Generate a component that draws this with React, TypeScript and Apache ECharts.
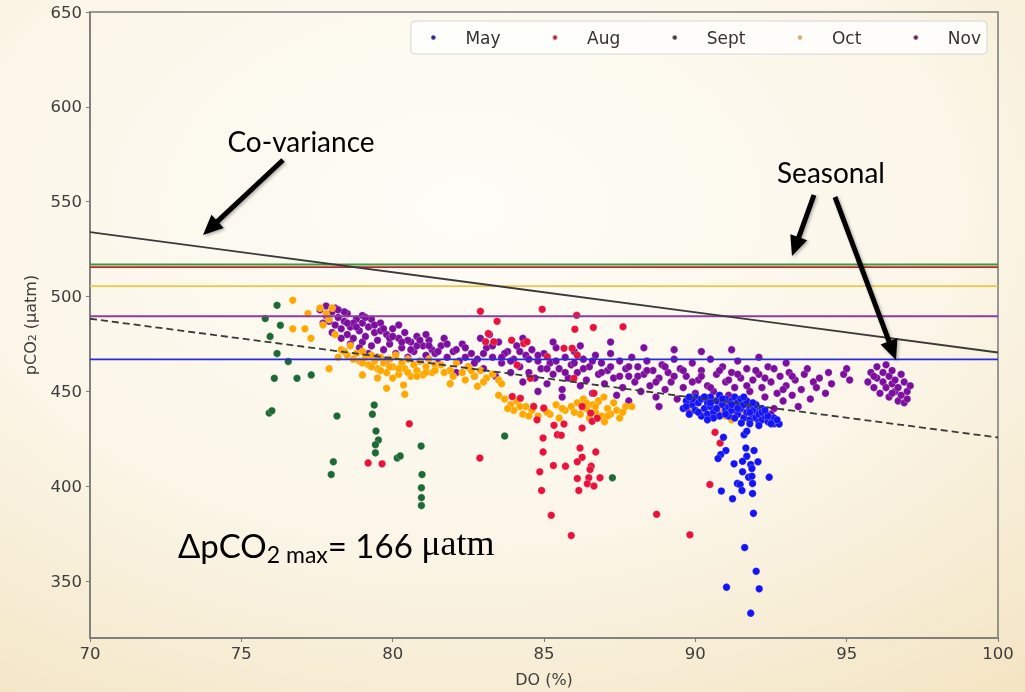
import React, { useEffect, useRef } from "react";
import * as echarts from "echarts";

// Axis ticks
const xTicks = [70, 75, 80, 85, 90, 95, 100];
const yTicks = [350, 400, 450, 500, 550, 600, 650];

// Monthly observations: [DO (%), pCO2 (µatm)]
const mayPoints = [
  [89.6, 441], [89.7, 445], [89.8, 438], [89.9, 443], [90.0, 447], [90.0, 440], [90.1, 444], [90.2, 437],
  [90.2, 446], [90.3, 441], [90.4, 444], [90.4, 438], [90.5, 447], [90.5, 442], [90.6, 439], [90.7, 445],
  [90.7, 441], [90.8, 437], [90.8, 448], [90.9, 443], [91.0, 440], [91.0, 446], [91.1, 442], [91.1, 437],
  [91.2, 445], [91.2, 440], [91.3, 447], [91.3, 443], [91.4, 438], [91.4, 444], [91.5, 441], [91.5, 446],
  [91.6, 436], [91.6, 443], [91.7, 439], [91.7, 445], [91.8, 441], [91.8, 435], [91.9, 438], [91.9, 442],
  [92.0, 436], [92.0, 440], [92.1, 434], [92.1, 438], [92.2, 441], [92.2, 435], [92.3, 437], [92.4, 434],
  [92.5, 436], [92.6, 433], [92.77, 432.8], [92.6, 436], [91.9, 440], [92.2, 439], [92.4, 437], [92.1, 432],
  [91.8, 433], [89.7, 442], [89.9, 446], [90.1, 439], [90.3, 447], [90.5, 444], [90.6, 436], [90.9, 446],
  [91.0, 438], [91.2, 443], [91.4, 441], [91.6, 447], [91.8, 439], [92.0, 443], [92.3, 440], [92.5, 433],
  [92.7, 435], [90.4, 435], [89.8, 447], [91.3, 436], [91.9, 444],
  [90.93, 425.8], [91.61, 427.2], [91.7, 429.0], [91.52, 433.3], [91.01, 418.8], [90.84, 416.7],
  [90.75, 414.6], [91.67, 420.2], [91.94, 418.8], [91.7, 415.8], [91.56, 413.2], [91.28, 411.8], [91.83, 411.4],
  [92.07, 412.9], [91.87, 409.3], [91.56, 407.6], [91.76, 404.8], [91.87, 405.3], [92.44, 404.8], [91.39, 401.5],
  [91.48, 400.9], [91.89, 401.5], [90.86, 397.5], [91.54, 397.8], [91.89, 396.2], [91.23, 393.4], [91.92, 385.7],
  [91.63, 367.7], [92.01, 355.2], [91.03, 346.8], [92.11, 345.9], [91.83, 333.1],
];

const augPoints = [
  [82.9, 492.2], [84.94, 493.3], [86.08, 490.1], [83.45, 487], [86.02, 482.8], [86.63, 483.7], [87.61, 484.1],
  [83.16, 480.5], [83.93, 477], [84.33, 475.3], [84.44, 476.2], [83.07, 476.2], [83.34, 476.2], [85.66, 472.7],
  [85.93, 472.7], [85.11, 468.3], [86.1, 469.1], [84.11, 463.9], [84.55, 456.9], [85.99, 456.9], [86.65, 449],
  [84.22, 446.4], [83.95, 447.3], [84.66, 442.1], [84.99, 441.2], [86.26, 442.1], [86.54, 438.6], [86.59, 434.2],
  [86.76, 435.9], [84.77, 435], [85.33, 432.1], [85.66, 432.8], [86.26, 430.7], [85.44, 427.2], [85.57, 426.9],
  [84.97, 425.4], [84.97, 418.1], [86.19, 420.2], [86.71, 418.1], [86.26, 415.3], [86.1, 412.9], [86.56, 410.6],
  [86.52, 408.8], [84.86, 407.6], [85.31, 410.9], [85.71, 410.6], [86.1, 404.1], [86.48, 404.5], [86.85, 404.5],
  [86.43, 401.3], [86.65, 400.1], [86.15, 397.8], [84.92, 397.8], [82.88, 414.9], [85.24, 384.7], [88.72, 385.2],
  [85.9, 374], [90.65, 428.4], [90.82, 422.8], [90.48, 400.9], [89.82, 374.4], [80.55, 432.9], [79.19, 412.3],
  [79.65, 411.8],
];

const septPoints = [
  [76.18, 495.4], [75.79, 488.4], [76.29, 484.9], [75.95, 479.0], [76.18, 470.0], [76.55, 465.8], [76.09, 456.9],
  [76.84, 456.9], [77.31, 458.7], [75.92, 438.6], [76.01, 439.8], [78.16, 437.0], [79.39, 442.8], [79.33, 438.0],
  [79.45, 429.1], [79.53, 424.4], [79.43, 421.9], [79.43, 417.6], [78.04, 412.9], [77.97, 406.2], [80.15, 414.9],
  [80.25, 416.0], [80.94, 421.2], [80.97, 406.2], [80.95, 399.2], [80.95, 394.0], [80.95, 389.8], [83.7, 426.5],
  [87.26, 404.5],
];

const octPoints = [
  [77.6, 494], [77.8, 491], [77.9, 488], [78.0, 494], [77.7, 485], [78.1, 480], [78.3, 472], [78.5, 469],
  [78.6, 474], [78.8, 470], [78.9, 466], [79.0, 471], [79.1, 468], [79.2, 464], [79.3, 469], [79.4, 466],
  [79.5, 462], [79.6, 468], [79.7, 465], [79.8, 460], [79.9, 467], [80.0, 463], [80.1, 469], [80.2, 459],
  [80.3, 465], [80.4, 462], [80.5, 467], [80.6, 458], [80.7, 464], [80.8, 461], [80.9, 466], [81.0, 459],
  [81.1, 463], [81.2, 467], [81.3, 460], [81.4, 464], [79.0, 458.7], [79.5, 457], [79.8, 451.7], [80.4, 448.5],
  [80.36, 453.4], [80.0, 457], [81.0, 458.7], [77.9, 462], [76.7, 498], [77.2, 491], [76.7, 483], [77.1, 483],
  [77.3, 478], [81.6, 464], [81.9, 461], [82.1, 465], [82.3, 460], [82.5, 463], [82.7, 458], [82.9, 461],
  [83.1, 457], [83.3, 459], [83.5, 456], [81.9, 454], [82.8, 452.7], [83.6, 454], [83.5, 448], [83.7, 446],
  [83.9, 443], [84.0, 440], [84.1, 445], [84.3, 438], [84.4, 442], [84.6, 440], [84.8, 437], [85.0, 441],
  [85.2, 438], [85.4, 443], [85.5, 436], [85.7, 440], [85.9, 442], [86.1, 444], [86.2, 438], [86.3, 446],
  [86.4, 441], [86.5, 436], [86.6, 443], [86.7, 439], [86.8, 445], [86.9, 437], [87.0, 434], [87.1, 441],
  [87.2, 438], [87.3, 444], [87.4, 440], [87.5, 436], [87.7, 442], [87.9, 442], [86.98, 447], [89.9, 442],
  [90.1, 445], [90.3, 439], [90.5, 443], [90.7, 437], [90.9, 441], [91.1, 444], [91.3, 438], [91.5, 440],
  [91.7, 436], [91.9, 439], [92.1, 435], [92.3, 437], [90.6, 446], [91.2, 435], [91.8, 442],
  [78.2, 468], [78.4, 471], [78.7, 467], [79.0, 465], [79.3, 463], [79.6, 461], [79.9, 463], [80.2, 462],
  [80.5, 460], [80.8, 458], [81.1, 460], [81.4, 461], [81.7, 460], [82.0, 458], [82.4, 456], [82.6, 461],
  [83.0, 455], [83.8, 441], [84.2, 442], [84.5, 437], [85.1, 439], [85.6, 441], [86.0, 439], [86.4, 444],
  [86.7, 442], [87.1, 437], [87.6, 439], [90.0, 440], [90.4, 437], [91.0, 437], [91.6, 438], [92.0, 437],
];

const novPoints = [
  [77.6, 493], [77.8, 490], [77.9, 487], [78.0, 492], [78.1, 485], [78.2, 489], [78.3, 483], [78.4, 487],
  [78.5, 480], [78.5, 491], [78.6, 484], [78.7, 478], [78.8, 488], [78.9, 482], [79.0, 476], [79.0, 486],
  [79.1, 479], [79.2, 484], [79.3, 474], [79.4, 481], [79.5, 477], [79.6, 486], [79.7, 472], [79.8, 480],
  [79.9, 475], [80.0, 483], [80.1, 470], [80.2, 478], [80.3, 473], [80.4, 481], [80.5, 468], [80.6, 476],
  [80.7, 471], [80.8, 479], [80.9, 466], [81.0, 474], [81.1, 469], [81.2, 477], [81.3, 472], [81.5, 465],
  [81.6, 474], [81.8, 468], [81.9, 461], [82.0, 471], [82.2, 466], [82.3, 475], [82.5, 463], [82.6, 470],
  [82.8, 467], [82.9, 478], [83.0, 462], [83.1, 473], [83.3, 468], [83.4, 458], [83.5, 476], [83.6, 465],
  [83.8, 471], [83.9, 460], [84.0, 467], [84.1, 474], [84.2, 463], [84.3, 455], [84.4, 469], [84.5, 460],
  [84.6, 472], [84.7, 457], [84.8, 466], [84.9, 462], [85.0, 470], [85.1, 454], [85.2, 465], [85.3, 459],
  [85.4, 473], [85.5, 462], [85.6, 451], [85.7, 468], [85.8, 457], [85.9, 464], [86.0, 471], [86.1, 460],
  [86.2, 453], [86.3, 467], [86.4, 456], [86.5, 463], [86.6, 449], [86.7, 469], [86.8, 459], [86.9, 465],
  [87.0, 454], [87.1, 461], [87.2, 470], [87.3, 457], [87.4, 448], [87.5, 466], [87.6, 452], [87.7, 462],
  [87.8, 458], [87.9, 468], [88.0, 455], [88.1, 463], [88.2, 450], [88.3, 459], [88.4, 466], [88.5, 453],
  [88.6, 461], [88.7, 447], [88.8, 457], [88.9, 464], [89.0, 451], [89.1, 460], [89.2, 455], [89.3, 467],
  [89.4, 446], [89.5, 462], [89.6, 452], [89.7, 458], [89.8, 444], [89.9, 465], [90.0, 449], [90.1, 456],
  [90.2, 461], [90.3, 447], [90.4, 453], [90.5, 467], [90.6, 450], [90.7, 459], [90.8, 444], [90.9, 463],
  [91.0, 455], [91.1, 448], [91.2, 460], [91.3, 452], [91.4, 466], [91.5, 457], [91.6, 446], [91.7, 462],
  [91.8, 450], [91.9, 456], [92.0, 443], [92.1, 459], [92.2, 452], [92.3, 447], [92.4, 463], [92.5, 455],
  [92.6, 441], [92.7, 449], [92.8, 458], [92.9, 445], [93.0, 453], [93.1, 460], [93.2, 448], [93.3, 456],
  [93.5, 451], [93.6, 459], [93.8, 446], [93.9, 455], [94.1, 457], [94.3, 449], [94.5, 454], [94.9, 459],
  [95.0, 462], [95.1, 456], [95.7, 455], [95.8, 460], [95.9, 452], [96.0, 457], [96.0, 463], [96.1, 449],
  [96.2, 455], [96.2, 460], [96.3, 452], [96.4, 458], [96.4, 447], [96.5, 454], [96.5, 461], [96.6, 450],
  [96.6, 456], [96.7, 445], [96.7, 452], [96.8, 448], [96.9, 455], [96.9, 444], [97.0, 450], [97.0, 446],
  [77.7, 486], [78.0, 481], [78.3, 478], [78.6, 475], [78.9, 473], [79.2, 470], [79.5, 468], [79.8, 466],
  [78.1, 494], [78.4, 492], [78.7, 486], [79.0, 490], [79.3, 488], [79.6, 482], [79.9, 478], [80.2, 485],
  [80.5, 477], [80.8, 474], [81.1, 480], [81.4, 470], [81.7, 478], [82.1, 460], [82.4, 468], [82.7, 458],
  [83.2, 480], [83.7, 470], [84.3, 478], [84.8, 450], [85.3, 476], [85.6, 447], [86.2, 474], [86.8, 445],
  [87.2, 476], [87.8, 445], [88.3, 473], [88.8, 442], [89.3, 472], [89.8, 440], [90.2, 471], [90.8, 440],
  [91.2, 472], [91.6, 439], [92.1, 468], [92.5, 438], [93.0, 465], [93.4, 442],
  [77.8, 495], [78.2, 493], [78.5, 486], [78.8, 484], [79.1, 489], [79.4, 485], [79.7, 483], [80.0, 479],
  [80.3, 476], [80.6, 472], [80.9, 477], [81.2, 474], [81.5, 471], [81.8, 475], [82.1, 472], [82.4, 473],
  [82.7, 465], [83.0, 470], [83.3, 474], [83.6, 468], [83.9, 466], [84.2, 471], [84.5, 467], [84.8, 469],
  [85.1, 462], [85.4, 466], [85.7, 460], [86.0, 465], [86.3, 462], [86.6, 466], [86.9, 460], [87.2, 463],
  [87.5, 458], [87.8, 463], [88.1, 458], [88.4, 461], [88.7, 455], [89.0, 463], [89.3, 458], [89.6, 461],
  [89.9, 455], [90.2, 458], [90.5, 452], [90.8, 461], [91.1, 456], [91.4, 459], [91.7, 453], [92.0, 461],
  [92.3, 457], [92.6, 462], [92.9, 451], [93.2, 458], [93.7, 462], [94.0, 452], [94.4, 460], [96.3, 464],
  [96.5, 449], [96.8, 459], [95.9, 458], [97.1, 453],
];

// Seasonal mean levels (µatm)
const seasonalLevels = [
  { name: "Sept", value: 516.9, color: "#3f9a3c" },
  { name: "Aug", value: 515.5, color: "#c0262c" },
  { name: "Oct", value: 505.5, color: "#f4c542" },
  { name: "Nov", value: 489.6, color: "#8c3d9e" },
  { name: "May", value: 466.9, color: "#2a2ae0" },
];

// Co-variance fit and its offset (dashed) line, endpoints at DO = 70 and 100
const covarianceLine = [[70, 534], [100, 470.5]];
const offsetLine = [[70, 488.3], [100, 425.7]];

const months = [
  { name: "May", data: mayPoints, color: "#1414f5", legend: "#1c1c8c", z: 6 },
  { name: "Aug", data: augPoints, color: "#e8123a", legend: "#b02030", z: 5 },
  { name: "Sept", data: septPoints, color: "#1d6a35", legend: "#333333", z: 5 },
  { name: "Oct", data: octPoints, color: "#ffa800", legend: "#d2a45a", z: 4 },
  { name: "Nov", data: novPoints, color: "#7c0f9e", legend: "#5a1a50", z: 3 },
];

function arrow(x1: number, y1: number, x2: number, y2: number) {
  const dx = x2 - x1;
  const dy = y2 - y1;
  const len = Math.hypot(dx, dy);
  const ux = dx / len;
  const uy = dy / len;
  const head = 20;
  const hw = 9;
  const bx = x2 - ux * head;
  const by = y2 - uy * head;
  const px = -uy;
  const py = ux;
  const shadow = { shadowColor: "rgba(0,0,0,0.3)", shadowBlur: 3, shadowOffsetX: 1.5, shadowOffsetY: 1.5 };
  return [
    {
      type: "line",
      shape: { x1, y1, x2: bx + ux * 2, y2: by + uy * 2 },
      style: { stroke: "#000", lineWidth: 5, ...shadow },
      z: 100,
    },
    {
      type: "polygon",
      shape: { points: [[x2, y2], [bx + px * hw, by + py * hw], [bx - px * hw, by - py * hw]] },
      style: { fill: "#000", ...shadow },
      z: 100,
    },
  ];
}

export default function App() {
  const ref = useRef<HTMLDivElement>(null);

  useEffect(() => {
    if (!ref.current) return;
    const chart = echarts.init(ref.current, null, { renderer: "svg" });

    const axisColor = "#7a7a7a";
    const labelColor = "#3d3d3d";

    const scatterSeries = months.map((m) => ({
      name: m.name,
      type: "scatter",
      data: m.data,
      symbolSize: 7.5,
      z: m.z,
      itemStyle: { color: m.color, borderColor: "rgba(255,255,255,0.4)", borderWidth: 0.6, opacity: 1 },
      silent: true,
    }));

    const levelSeries = seasonalLevels.map((l) => ({
      name: l.name + " mean",
      type: "line",
      data: [[70, l.value], [100, l.value]],
      symbol: "none",
      z: 8,
      lineStyle: { color: l.color, width: 1.8 },
      silent: true,
    }));

    const fitSeries = [
      {
        name: "Co-variance",
        type: "line",
        data: covarianceLine,
        symbol: "none",
        z: 9,
        lineStyle: { color: "#3a3a3a", width: 1.8 },
        silent: true,
      },
      {
        name: "Offset",
        type: "line",
        data: offsetLine,
        symbol: "none",
        z: 9,
        lineStyle: { color: "#3a3a3a", width: 1.8, type: [7, 4] },
        silent: true,
      },
    ];

    const option = {
      animation: false,
      backgroundColor: {
        type: "radial",
        x: 0.45,
        y: 0.3,
        r: 0.95,
        colorStops: [
          { offset: 0, color: "#fdfcf7" },
          { offset: 0.5, color: "#fbf6e8" },
          { offset: 1, color: "#f2e1bc" },
        ],
      },
      grid: {
        left: 90,
        top: 12,
        width: 908,
        height: 629,
        show: true,
        borderColor: axisColor,
        borderWidth: 1.5,
        backgroundColor: "transparent",
      },
      legend: {
        data: months.map((m) => ({ name: m.name, itemStyle: { color: m.legend } })),
        top: 21,
        right: 38,
        icon: "circle",
        itemWidth: 54,
        itemHeight: 5,
        itemGap: 51,
        padding: [8, 6, 8, 19],
        backgroundColor: "rgba(255,255,255,0.75)",
        borderColor: "#d6d6d6",
        borderWidth: 1,
        borderRadius: 4,
        textStyle: { fontSize: 17, color: "#333", fontFamily: "DejaVu Sans" },
      },
      xAxis: {
        type: "value",
        min: 70,
        max: 100,
        interval: 5,
        name: "DO (%)",
        nameLocation: "middle",
        nameGap: 33,
        nameTextStyle: { fontSize: 16, color: labelColor, fontFamily: "DejaVu Sans" },
        axisLine: { show: true, onZero: false, lineStyle: { color: axisColor, width: 1.5 } },
        axisTick: { show: true, length: 4, customValues: xTicks, lineStyle: { color: axisColor } },
        axisLabel: { customValues: xTicks, color: labelColor, fontSize: 16.5, fontFamily: "DejaVu Sans", margin: 7 },
        splitLine: { show: false },
      },
      yAxis: {
        type: "value",
        min: 320,
        max: 650,
        name: "pCO{sub|2} (µatm)",
        nameLocation: "middle",
        nameGap: 52,
        nameTextStyle: {
          fontSize: 16,
          color: labelColor,
          fontFamily: "DejaVu Sans",
          rich: { sub: { fontSize: 11, color: labelColor, fontFamily: "DejaVu Sans", verticalAlign: "bottom" } },
        },
        axisLine: { show: true, onZero: false, lineStyle: { color: axisColor, width: 1.5 } },
        axisTick: { show: true, length: 4, customValues: yTicks, lineStyle: { color: axisColor } },
        axisLabel: { customValues: yTicks, color: labelColor, fontSize: 16.5, fontFamily: "DejaVu Sans", margin: 8 },
        splitLine: { show: false },
      },
      graphic: [
        {
          type: "text",
          x: 301,
          y: 141,
          z: 100,
          style: {
            text: "Co-variance",
            fontSize: 28,
            fontFamily: "Lato",
            fill: "#000",
            align: "center",
            verticalAlign: "middle",
          },
        },
        {
          type: "text",
          x: 831,
          y: 172,
          z: 100,
          style: {
            text: "Seasonal",
            fontSize: 28,
            fontFamily: "Lato",
            fill: "#000",
            align: "center",
            verticalAlign: "middle",
          },
        },
        {
          type: "text",
          x: 178,
          y: 565,
          z: 100,
          style: {
            text: "{m|ΔpCO}{s|2 max}{m|= 166 }{u|μatm}",
            align: "left",
            verticalAlign: "bottom",
            fill: "#000",
            rich: {
              m: { fontSize: 33, fontFamily: "Lato", fill: "#000", lineHeight: 40, verticalAlign: "bottom", padding: [0, 0, 4, 0] },
              s: { fontSize: 23, fontFamily: "Lato", fill: "#000", lineHeight: 28, verticalAlign: "bottom" },
              u: { fontSize: 36, fontFamily: "Liberation Serif", fill: "#000", lineHeight: 40, verticalAlign: "bottom", padding: [0, 0, 4, 0] },
            },
          },
        },
        ...arrow(283, 160, 203, 235),
        ...arrow(814, 195, 792, 256),
        ...arrow(835, 197, 896, 360),
      ],
      series: [...scatterSeries, ...levelSeries, ...fitSeries],
    };

    chart.setOption(option as any);
    return () => chart.dispose();
  }, []);

  return (
    <div
      ref={ref}
      style={{ position: "fixed", left: 0, top: 0, width: 1025, height: 692 }}
    />
  );
}
